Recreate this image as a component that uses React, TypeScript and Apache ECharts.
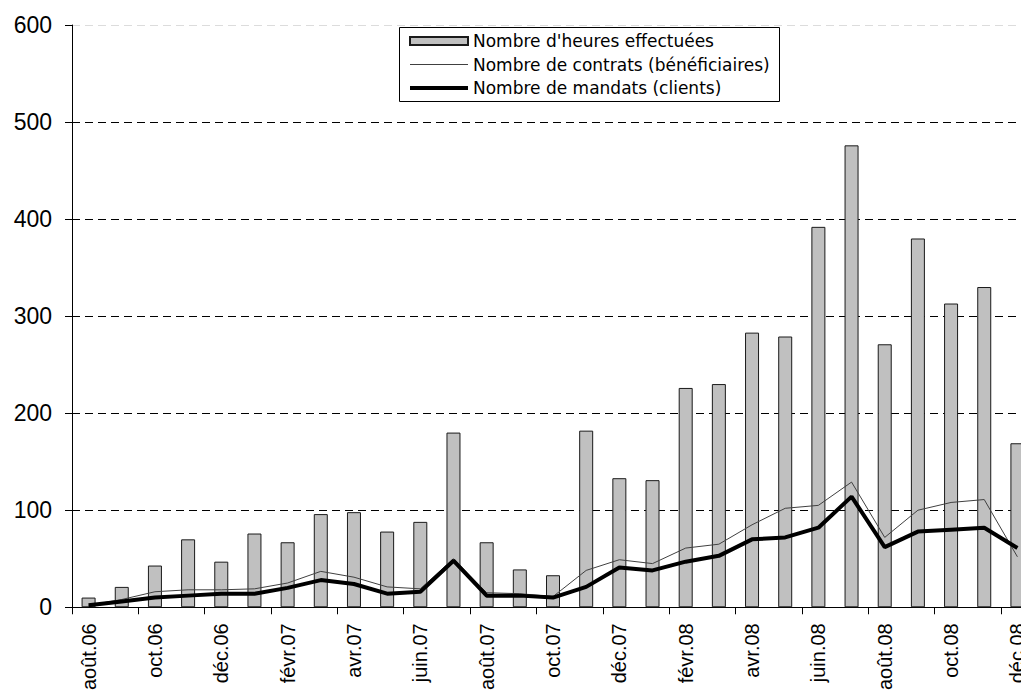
import React, { useEffect, useRef } from "react";
import * as echarts from "echarts";

// Months shown on the category axis (every other label is displayed)
const months = [
  "août.06", "sept.06", "oct.06", "nov.06", "déc.06",
  "janv.07", "févr.07", "mars.07", "avr.07", "mai.07", "juin.07", "juil.07",
  "août.07", "sept.07", "oct.07", "nov.07", "déc.07",
  "janv.08", "févr.08", "mars.08", "avr.08", "mai.08", "juin.08", "juil.08",
  "août.08", "sept.08", "oct.08", "nov.08", "déc.08",
];

// Hours worked per month
const heures = [
  10, 21, 43, 70, 47, 76, 67, 96, 98, 78, 88, 180, 67, 39, 33,
  182, 133, 131, 226, 230, 283, 279, 392, 476, 271, 380, 313, 330, 169,
];

// Number of contracts (beneficiaries) per month
const contrats = [
  2, 8, 16, 18, 18, 19, 25, 37, 31, 21, 19, 50, 15, 14, 11,
  38, 49, 45, 61, 65, 85, 102, 105, 129, 72, 100, 108, 111, 52,
];

// Number of mandates (clients) per month
const mandats = [
  2, 6, 10, 12, 14, 14, 20, 28, 24, 14, 16, 48, 12, 12, 10,
  21, 41, 38, 47, 53, 70, 72, 82, 114, 62, 78, 80, 82, 61,
];

const seriesNames = [
  "Nombre d'heures effectuées",
  "Nombre de contrats (bénéficiaires)",
  "Nombre de mandats (clients)",
];

const yMin = 0;
const yMax = 600;
const yStep = 100;

// Family names are left unquoted: the SVG output writes them into a style attribute
const axisFont = "Liberation Sans, Arial, sans-serif";
const legendFont = "DejaVu Sans, sans-serif";

export default function App() {
  const ref = useRef<HTMLDivElement>(null);

  useEffect(() => {
    if (!ref.current) return;
    const chart = echarts.init(ref.current, undefined, { renderer: "svg" });

    // Dashed grid lines, the topmost one only faintly drawn
    const gridColors: string[] = [];
    for (let v = yMin; v <= yMax; v += yStep) {
      gridColors.push(v === yMax ? "#dcdcdc" : "#000000");
    }

    chart.setOption({
      animation: false,
      backgroundColor: "#ffffff",
      grid: { left: 72, top: 25, width: 962, bottom: 83, containLabel: false },
      xAxis: {
        type: "category",
        data: months,
        boundaryGap: true,
        axisLine: { show: true, lineStyle: { color: "#000", width: 1 } },
        axisTick: {
          show: true,
          interval: 1,
          length: 7,
          alignWithLabel: false,
          lineStyle: { color: "#000", width: 1 },
        },
        axisLabel: {
          interval: 1,
          rotate: 90,
          margin: 16,
          color: "#000",
          fontFamily: axisFont,
          fontSize: 20,
        },
        splitLine: { show: false },
      },
      yAxis: {
        type: "value",
        min: yMin,
        max: yMax,
        interval: yStep,
        axisLine: { show: true, lineStyle: { color: "#000", width: 1 } },
        axisTick: { show: true, length: 7, lineStyle: { color: "#000", width: 1 } },
        axisLabel: {
          margin: 20,
          color: "#000",
          fontFamily: axisFont,
          fontSize: 23,
        },
        splitLine: {
          show: true,
          lineStyle: { color: gridColors, width: 1, type: [8, 5] },
        },
      },
      legend: {
        orient: "vertical",
        left: 408,
        top: 31,
        padding: 0,
        itemWidth: 58,
        itemHeight: 8,
        itemGap: 3.5,
        selectedMode: false,
        backgroundColor: "transparent",
        textStyle: {
          color: "#000",
          fontFamily: legendFont,
          fontSize: 17,
          lineHeight: 20,
        },
        data: [
          { name: seriesNames[0], icon: "rect" },
          {
            name: seriesNames[1],
            itemStyle: { opacity: 0 },
            lineStyle: { width: 1, color: "#404040" },
          },
          {
            name: seriesNames[2],
            itemStyle: { opacity: 0 },
            lineStyle: { width: 4, color: "#000" },
          },
        ],
      },
      graphic: [
        {
          type: "rect",
          z: 3,
          shape: { x: 399.5, y: 27.5, width: 380, height: 74 },
          style: { fill: "#ffffff", stroke: "#000000", lineWidth: 1 },
        },
      ],
      series: [
        {
          name: seriesNames[0],
          type: "bar",
          data: heures,
          barWidth: 14,
          itemStyle: { color: "#c0c0c0", borderColor: "#1a1a1a", borderWidth: 1 },
          z: 2,
        },
        {
          name: seriesNames[1],
          type: "line",
          data: contrats,
          symbol: "none",
          lineStyle: { color: "#404040", width: 1 },
          itemStyle: { color: "#404040" },
          z: 3,
        },
        {
          name: seriesNames[2],
          type: "line",
          data: mandats,
          symbol: "none",
          lineStyle: { color: "#000", width: 4 },
          itemStyle: { color: "#000" },
          z: 4,
        },
      ],
    });

    return () => {
      chart.dispose();
    };
  }, []);

  return (
    <div
      style={{
        position: "fixed",
        left: 0,
        top: 0,
        width: 1021,
        height: 693,
        overflow: "hidden",
        background: "#fff",
      }}
    >
      <div ref={ref} style={{ width: 1040, height: 693 }} />
    </div>
  );
}
